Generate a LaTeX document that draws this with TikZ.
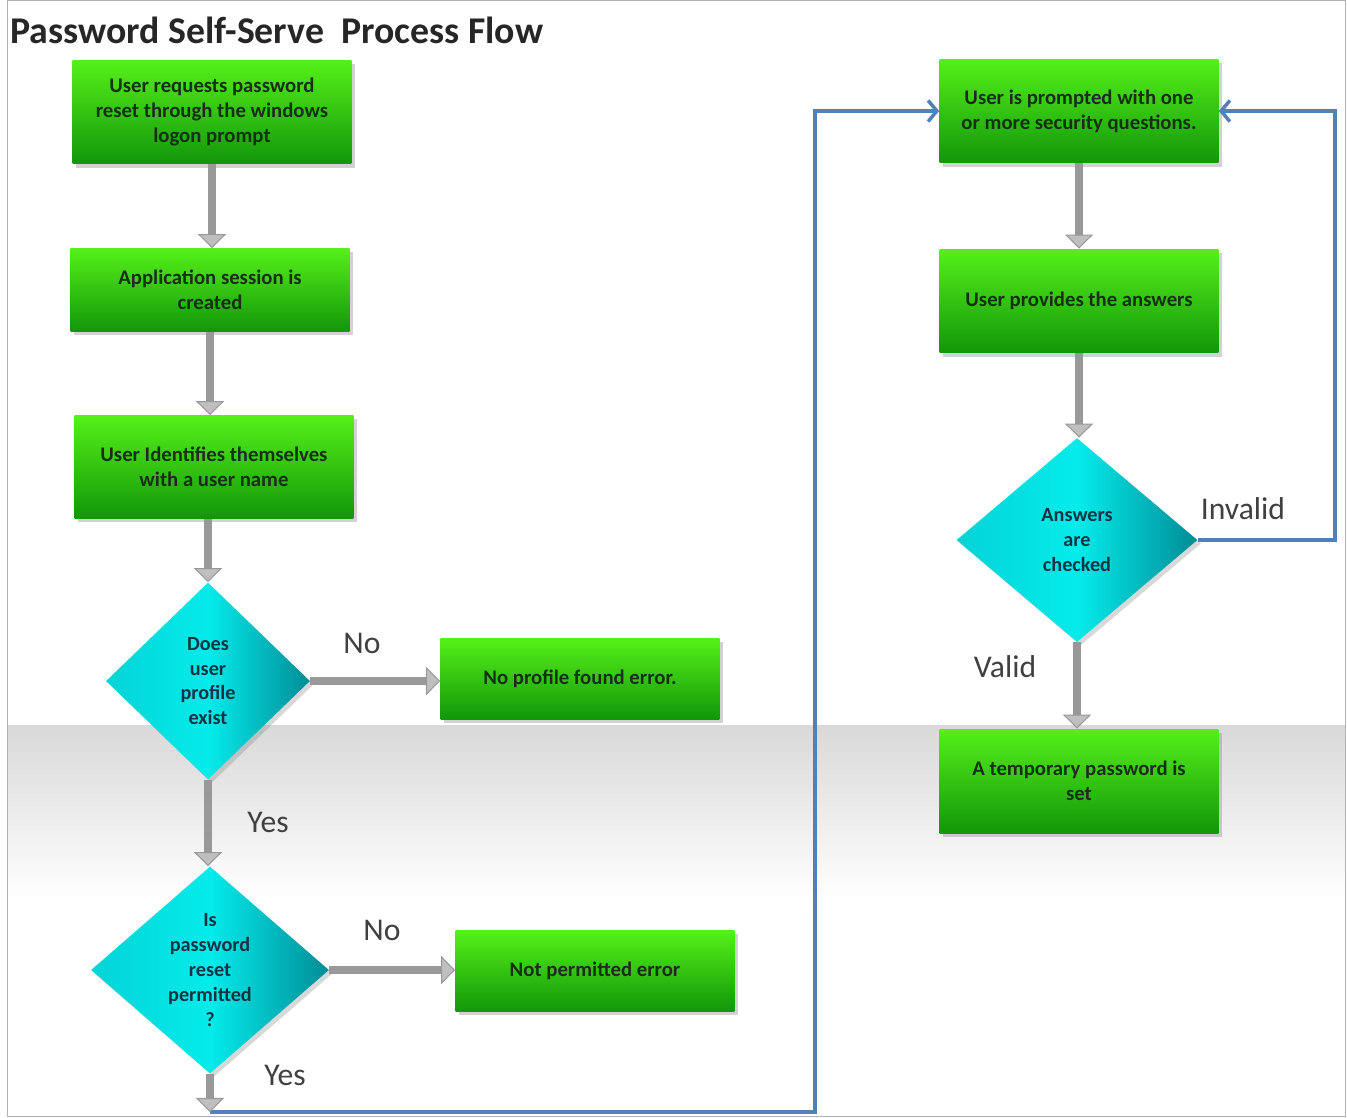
\documentclass[tikz,border=0pt]{standalone}
\usepackage{fontspec}
\setmainfont{Carlito}
\usetikzlibrary{arrows.meta}
\usetikzlibrary{shapes.geometric, positioning, shadows}
\definecolor{boxlight}{RGB}{85,240,25}
\definecolor{boxdark}{RGB}{18,150,10}
\definecolor{decilight}{RGB}{5,235,235}
\definecolor{decidark}{RGB}{0,140,150}
\definecolor{boxtext}{RGB}{22,48,18}
\definecolor{decitext}{RGB}{18,52,68}
\definecolor{loopblue}{RGB}{79,129,189}
\tikzset{
    stepbox/.style={
        rectangle, top color=boxlight, bottom color=boxdark, text=boxtext,
        font=\fontsize{11.8}{14.2}\selectfont\bfseries, align=center,
        minimum width=5.58cm, inner sep=2pt,
        drop shadow={shadow xshift=2pt, shadow yshift=-2pt, opacity=0.35}
    },
    decision/.style={
        diamond, left color=decilight!75!decidark, right color=decidark,
        middle color=decilight, text=decitext,
        font=\fontsize{11.5}{14.2}\selectfont\bfseries, align=center, inner sep=0pt,
        drop shadow={shadow xshift=2pt, shadow yshift=-2pt, opacity=0.3}
    },
    flow/.style={
        line width=4.5pt, draw=gray!80,
        -{Triangle[width=16pt, length=8pt, fill=gray!50, line width=0.6pt]}
    },
    loopback/.style={
        line width=2pt, draw=loopblue,
        -{Straight Barb[length=5pt, width=12pt]}
    },
    answer/.style={font=\fontsize{18}{20}\selectfont, text=black!75},
}
\begin{document}
\begin{tikzpicture}[x=0.02cm, y=-0.02cm]

            \useasboundingbox (0,0) rectangle (1347,1117);

            % Background band and frame
            \fill[white] (0,0) rectangle (1347,1117);
            \shade[top color=gray!30, bottom color=white] (8,725) rectangle (1345,900);
            \draw[gray!60] (7,0.5) rectangle (1345.5,1116.5);

            % Title
            \node[anchor=west, inner sep=0pt, font=\fontsize{21.5}{24}\selectfont\bfseries, text=black!85] (title) at (10,30) {Password Self-Serve\ \ Process Flow};

            % Left column
            \node[stepbox, minimum height=2.08cm] (request) at (212,112) {User requests password\\reset through the windows\\logon prompt};
            \node[stepbox, minimum height=1.66cm] (session) at (210,290) {Application session is\\created};
            \node[stepbox, minimum height=2.06cm] (identify) at (214,467) {User Identifies themselves\\with a user name};
            \node[decision, minimum width=4.08cm, minimum height=3.94cm] (profile) at (208,681) {Does\\user\\profile\\exist};
            \node[stepbox, minimum height=1.62cm] (noprofile) at (580,679) {No profile found error.};
            \node[decision, minimum width=4.76cm, minimum height=4.14cm] (permitted) at (210,970) {Is\\password\\reset\\permitted\\?};
            \node[stepbox, minimum height=1.62cm] (notpermitted) at (595,971) {Not permitted error};

            % Right column
            \node[stepbox, minimum height=2.08cm] (prompt) at (1079,111) {User is prompted with one\\or more security questions.};
            \node[stepbox, minimum height=2.08cm] (answers) at (1079,301) {User provides the answers};
            \node[decision, minimum width=4.82cm, minimum height=4.08cm] (checked) at (1077,540) {Answers\\are\\checked};
            \node[stepbox, minimum height=2.08cm] (temppass) at (1079,781) {A temporary password is\\set};

            % Bends of the blue lines
            \coordinate (exit) at (210,1112);
            \coordinate (leftbus) at (815,1112);
            \coordinate (rightbus) at (1335,540);

            % Loop-back lines
            \draw[loopback] (exit) -- (leftbus) |- (prompt.west);
            \draw[loopback] (checked.east) -- (rightbus) |- (prompt.east);

            % Process flow
            \draw[flow] (request.south) -- (request.south |- session.north);
            \draw[flow] (session.south) -- (session.south |- identify.north);
            \draw[flow] (profile.north |- identify.south) -- (profile.north);
            \draw[flow] (profile.east) -- (profile.east -| noprofile.west);
            \draw[flow] (profile.south) -- (profile.south |- permitted.north);
            \draw[flow] (permitted.east) -- (permitted.east -| notpermitted.west);
            \draw[flow] (permitted.south) -- (exit);
            \draw[flow] (prompt.south) -- (prompt.south |- answers.north);
            \draw[flow] (answers.south) -- (answers.south |- checked.north);
            \draw[flow] (checked.south) -- (checked.south |- temppass.north);

            % Branch labels
            \node[answer] (no1) at (362,643) {No};
            \node[answer] (yes1) at (268,822) {Yes};
            \node[answer] (no2) at (382,930) {No};
            \node[answer] (yes2) at (285,1075) {Yes};
            \node[answer] (invalid) at (1243,509) {Invalid};
            \node[answer] (valid) at (1005,667) {Valid};

        \end{tikzpicture}
\end{document}
